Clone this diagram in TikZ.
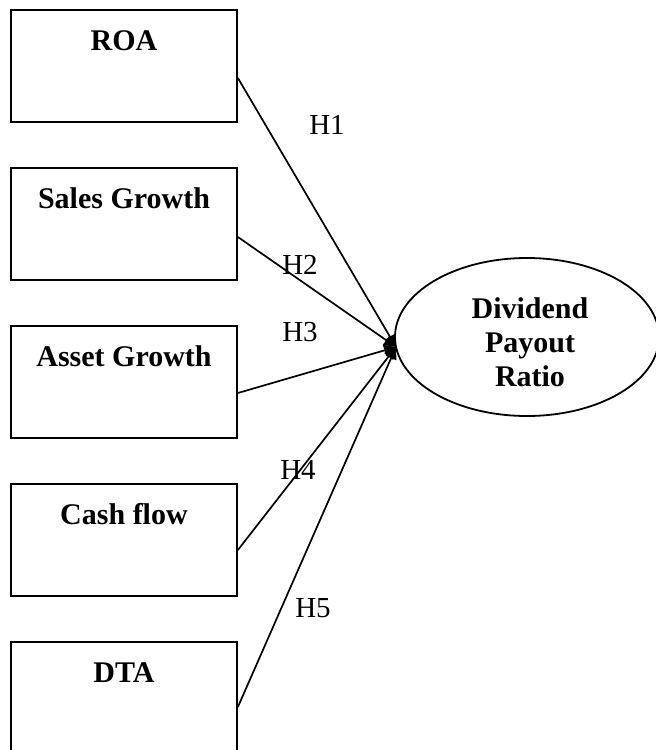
\documentclass[tikz,border=0pt]{standalone}
\usepackage{fontspec}
\setmainfont{Liberation Serif}
\usetikzlibrary{arrows.meta,shapes.geometric}
\tikzset{
  varbox/.style={draw,line width=1.8pt,minimum width=226pt,minimum height=112pt,inner sep=0pt},
  vartitle/.style={anchor=base,font=\fontsize{30}{34}\selectfont\bfseries,inner sep=0pt},
  hyp/.style={font=\fontsize{29}{34}\selectfont,inner sep=0pt},
  conn/.style={line width=1.7pt,-{Triangle[length=12pt,width=11pt]}},
}
\begin{document}
\begin{tikzpicture}[x=1pt,y=-1pt]
\useasboundingbox (0,0) rectangle (656,750);
\clip (0,0) rectangle (656,750);
% boxes
\node[varbox] (roa) at (124,66) {};
\node[varbox] (sg) at (124,224) {};
\node[varbox] (ag) at (124,382) {};
\node[varbox] (cf) at (124,540) {};
\node[varbox] (dta) at (124,698) {};
\node[vartitle] (roat) at (124,50) {ROA};
\node[vartitle] (sgt) at (124,208) {Sales Growth};
\node[vartitle] (agt) at (124,366) {Asset Growth};
\node[vartitle] (cft) at (124,524) {Cash flow};
\node[vartitle] (dtat) at (124,682) {DTA};
% ellipse
\node[draw,ellipse,line width=1.8pt,minimum width=264pt,minimum height=158pt,inner sep=0pt] (dpr) at (527,337) {};
\node[align=center,font=\fontsize{30}{34}\selectfont\bfseries,inner sep=0pt] (dprt) at (530,342) {Dividend\\Payout\\Ratio};
\coordinate (tip) at (396,347);
% connectors
\draw[conn] ([yshift=-12pt]roa.east) -- (tip);
\draw[conn] ([yshift=-13pt]sg.east) -- (tip);
\draw[conn] ([yshift=-11pt]ag.east) -- (tip);
\draw[conn] ([yshift=-10pt]cf.east) -- (tip);
\draw[conn] ([yshift=-9pt]dta.east) -- (tip);
% labels
\node[hyp] (h1) at (327,125) {H1};
\node[hyp] (h2) at (300,265) {H2};
\node[hyp] (h3) at (300,332) {H3};
\node[hyp] (h4) at (298,470) {H4};
\node[hyp] (h5) at (313,608) {H5};
\end{tikzpicture}
\end{document}
